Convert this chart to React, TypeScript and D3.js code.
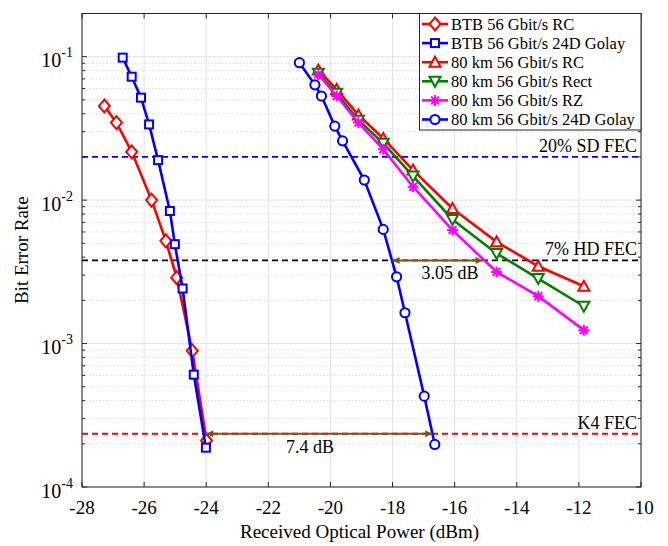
import React from "react";
import * as d3 from "d3";

// Measured BER curves versus received optical power (dBm)
const btbRcPower = [-27.28, -26.89, -26.4, -25.76, -25.3, -24.95, -24.45, -23.99];
const btbRcBer = [0.0453, 0.0347, 0.0217, 0.01, 0.0052, 0.00288, 0.00089, 0.000211];

const btbGolayPower = [-26.69, -26.4, -26.1, -25.84, -25.55, -25.17, -25.01, -24.76, -24.4, -24.01];
const btbGolayBer = [0.0985, 0.0725, 0.0518, 0.0337, 0.019, 0.0084, 0.00493, 0.00242, 0.000607, 0.000188];

const km80Power = [-20.39, -19.8, -19.1, -18.3, -17.34, -16.07, -14.65, -13.31, -11.84];
const km80RcBer = [0.0808, 0.0591, 0.0392, 0.0269, 0.0162, 0.00875, 0.00512, 0.00346, 0.00251];
const km80RectBer = [0.0766, 0.0556, 0.0361, 0.0249, 0.0147, 0.00733, 0.00425, 0.00284, 0.00182];
const km80RzBer = [0.0753, 0.0532, 0.0347, 0.0226, 0.0124, 0.00618, 0.00316, 0.00214, 0.00124];

const km80GolayPower = [-21.0, -20.5, -20.29, -19.86, -19.61, -18.91, -18.3, -17.87, -17.6, -16.98, -16.64];
const km80GolayBer = [0.0908, 0.0636, 0.0532, 0.0328, 0.0259, 0.0138, 0.00625, 0.00292, 0.00164, 0.00043, 0.000198];

// FEC thresholds
const fecNames = ["20% SD FEC", "7% HD FEC", "K4 FEC"];
const fecBer = [0.02, 0.0038, 0.000235];
const fecColors = ["#0000ff", "#000000", "#ff0000"];

// Power-penalty annotations
const gapLabels = ["7.4 dB", "3.05 dB"];
const gapFrom = [-24.0, -18.0];
const gapTo = [-16.72, -15.1];
const gapBer = [0.000235, 0.0038];

const xTicks = [-28, -26, -24, -22, -20, -18, -16, -14, -12, -10];
const yTickExps = [-4, -3, -2, -1];

type MarkerKind = "diamond" | "square" | "triUp" | "triDown" | "star" | "circle";

const series: {
  name: string;
  power: number[];
  ber: number[];
  color: string;
  marker: MarkerKind;
}[] = [
  { name: "BTB 56 Gbit/s RC", power: btbRcPower, ber: btbRcBer, color: "#ff0000", marker: "diamond" },
  { name: "BTB 56 Gbit/s 24D Golay", power: btbGolayPower, ber: btbGolayBer, color: "#0000ff", marker: "square" },
  { name: "80 km 56 Gbit/s RC", power: km80Power, ber: km80RcBer, color: "#ff0000", marker: "triUp" },
  { name: "80 km 56 Gbit/s Rect", power: km80Power, ber: km80RectBer, color: "#008000", marker: "triDown" },
  { name: "80 km 56 Gbit/s RZ", power: km80Power, ber: km80RzBer, color: "#ff00ff", marker: "star" },
  { name: "80 km 56 Gbit/s 24D Golay", power: km80GolayPower, ber: km80GolayBer, color: "#0000ff", marker: "circle" },
];

const W = 668;
const H = 546;
const M = { left: 82, right: 641, top: 13.5, bottom: 487 };
const FONT = "'Liberation Serif', 'Times New Roman', serif";
const ARROW = "#7e5416";

const x = d3.scaleLinear().domain([-28, -10]).range([M.left, M.right]);
const y = d3.scaleLog().domain([1e-4, 0.2]).range([M.bottom, M.top]);

function Marker({ kind, cx, cy, color }: { kind: MarkerKind; cx: number; cy: number; color: string }) {
  const sw = 2;
  switch (kind) {
    case "diamond":
      return (
        <path
          d={`M${cx},${cy - 6.5}L${cx + 5.5},${cy}L${cx},${cy + 6.5}L${cx - 5.5},${cy}Z`}
          fill="#fff"
          stroke={color}
          strokeWidth={sw}
        />
      );
    case "square":
      return <rect x={cx - 4} y={cy - 4} width={8} height={8} fill="#fff" stroke={color} strokeWidth={sw} />;
    case "triUp":
      return (
        <path
          d={`M${cx},${cy - 5.5}L${cx + 5.5},${cy + 4.5}L${cx - 5.5},${cy + 4.5}Z`}
          fill="#fff"
          stroke={color}
          strokeWidth={sw}
        />
      );
    case "triDown":
      return (
        <path
          d={`M${cx},${cy + 5.5}L${cx + 5.5},${cy - 4.5}L${cx - 5.5},${cy - 4.5}Z`}
          fill="#fff"
          stroke={color}
          strokeWidth={sw}
        />
      );
    case "star": {
      const r = 5.5;
      const d = r * 0.72;
      return (
        <path
          d={`M${cx - r},${cy}L${cx + r},${cy}M${cx},${cy - r}L${cx},${cy + r}M${cx - d},${cy - d}L${cx + d},${cy + d}M${cx - d},${cy + d}L${cx + d},${cy - d}`}
          stroke={color}
          strokeWidth={sw}
          fill="none"
        />
      );
    }
    case "circle":
      return <circle cx={cx} cy={cy} r={4.6} fill="#fff" stroke={color} strokeWidth={sw} />;
  }
}

export default function App() {
  const line = d3
    .line<[number, number]>()
    .x((d) => x(d[0]))
    .y((d) => y(d[1]));

  // minor decade grid positions
  const minorY: number[] = [];
  for (let e = -4; e <= -1; e++) {
    for (let m = 2; m <= 9; m++) {
      const v = m * Math.pow(10, e);
      if (v <= 0.2) minorY.push(v);
    }
  }

  const legend = { x0: 419.5, y0: 13.5, x1: 641, y1: 130, row0: 24, dy: 19.1 };
  const txt = { fontFamily: FONT };

  return (
    <svg width={W} height={H} style={{ position: "absolute", left: 0, top: 0, background: "#fff" }}>
      <rect x={0} y={0} width={W} height={H} fill="#fff" />
      {/* grid */}
      <g>
        {minorY.map((v, i) => (
          <line
            key={"my" + i}
            x1={M.left}
            x2={M.right}
            y1={y(v)}
            y2={y(v)}
            stroke="#d9d9d9"
            strokeWidth={1}
            strokeDasharray="1.5,2"
          />
        ))}
        {yTickExps.map((e) => (
          <line key={"gy" + e} x1={M.left} x2={M.right} y1={y(Math.pow(10, e))} y2={y(Math.pow(10, e))} stroke="#e3e3e3" strokeWidth={1} />
        ))}
        {xTicks.map((t) => (
          <line key={"gx" + t} x1={x(t)} x2={x(t)} y1={M.top} y2={M.bottom} stroke="#e3e3e3" strokeWidth={1} />
        ))}
      </g>

      {/* FEC thresholds */}
      {fecBer.map((b, i) => (
        <line
          key={"fec" + i}
          x1={M.left}
          x2={M.right}
          y1={y(b)}
          y2={y(b)}
          stroke={fecColors[i]}
          strokeWidth={1.8}
          strokeDasharray="6,4"
        />
      ))}

      {/* data series */}
      {series.map((s, si) => {
        const pts = s.power.map((p, i) => [p, s.ber[i]] as [number, number]);
        return (
          <g key={"s" + si}>
            <path d={line(pts) || ""} fill="none" stroke={s.color} strokeWidth={2.6} />
            {pts.map((p, i) => (
              <Marker key={i} kind={s.marker} cx={x(p[0])} cy={y(p[1])} color={s.color} />
            ))}
          </g>
        );
      })}

      {/* penalty arrows */}
      <defs>
        <marker id="ah" viewBox="0 0 10 10" refX={10} refY={5} markerWidth={9} markerHeight={7} orient="auto-start-reverse" markerUnits="userSpaceOnUse">
          <path d="M0,0L10,5L0,10Z" fill={ARROW} />
        </marker>
      </defs>
      {gapLabels.map((lab, i) => (
        <line
          key={"gap" + i}
          x1={x(gapFrom[i])}
          x2={x(gapTo[i])}
          y1={y(gapBer[i])}
          y2={y(gapBer[i])}
          stroke={ARROW}
          strokeWidth={2}
          markerStart="url(#ah)"
          markerEnd="url(#ah)"
        />
      ))}
      <text x={310} y={453} style={txt} fontSize={18} textAnchor="middle" fill="#000">
        {gapLabels[0]}
      </text>
      <text x={450} y={279} style={txt} fontSize={18} textAnchor="middle" fill="#000">
        {gapLabels[1]}
      </text>

      {/* threshold labels */}
      {fecNames.map((n, i) => (
        <text key={"fl" + i} x={637} y={y(fecBer[i]) - 5} style={txt} fontSize={18} textAnchor="end" fill="#000">
          {n}
        </text>
      ))}

      {/* axes box and ticks */}
      <g stroke="#262626" strokeWidth={1} fill="none">
        <rect x={M.left} y={M.top} width={M.right - M.left} height={M.bottom - M.top} />
        {xTicks.map((t) => (
          <g key={"xt" + t}>
            <line x1={x(t)} x2={x(t)} y1={M.bottom} y2={M.bottom - 5} />
            <line x1={x(t)} x2={x(t)} y1={M.top} y2={M.top + 5} />
          </g>
        ))}
        {yTickExps.map((e) => (
          <g key={"yt" + e}>
            <line x1={M.left} x2={M.left + 5} y1={y(Math.pow(10, e))} y2={y(Math.pow(10, e))} />
            <line x1={M.right} x2={M.right - 5} y1={y(Math.pow(10, e))} y2={y(Math.pow(10, e))} />
          </g>
        ))}
        {minorY.map((v, i) => (
          <g key={"myt" + i}>
            <line x1={M.left} x2={M.left + 3} y1={y(v)} y2={y(v)} />
            <line x1={M.right} x2={M.right - 3} y1={y(v)} y2={y(v)} />
          </g>
        ))}
      </g>

      {/* tick labels */}
      {xTicks.map((t) => (
        <text key={"xl" + t} x={x(t)} y={514} style={txt} fontSize={19} textAnchor="middle" fill="#000">
          {String(t)}
        </text>
      ))}
      {yTickExps.map((e) => (
        <text key={"yl" + e} x={73} y={y(Math.pow(10, e)) + 10.5} style={txt} fontSize={20} textAnchor="end" fill="#000">
          10
          <tspan fontSize={14} dy={-10}>
            {String(e)}
          </tspan>
        </text>
      ))}

      {/* axis titles */}
      <text x={(M.left + M.right) / 2 - 2} y={538} style={txt} fontSize={19} textAnchor="middle" fill="#000">
        Received Optical Power (dBm)
      </text>
      <text
        transform={`translate(28,${(M.top + M.bottom) / 2}) rotate(-90)`}
        style={txt}
        fontSize={19}
        textAnchor="middle"
        fill="#000"
      >
        Bit Error Rate
      </text>

      {/* legend */}
      <rect x={legend.x0} y={legend.y0} width={legend.x1 - legend.x0} height={legend.y1 - legend.y0} fill="#fff" stroke="#262626" strokeWidth={1} />
      {series.map((s, i) => {
        const cy = legend.row0 + i * legend.dy;
        return (
          <g key={"lg" + i}>
            <line x1={422} x2={448} y1={cy} y2={cy} stroke={s.color} strokeWidth={2.6} />
            <Marker kind={s.marker} cx={435} cy={cy} color={s.color} />
            <text x={451} y={cy + 5.5} style={txt} fontSize={16.5} fill="#000">
              {s.name}
            </text>
          </g>
        );
      })}
    </svg>
  );
}
